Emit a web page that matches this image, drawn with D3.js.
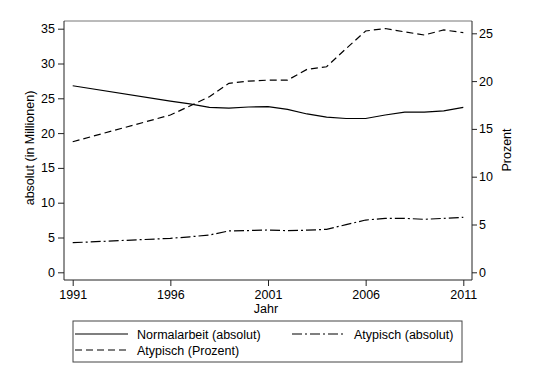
<!DOCTYPE html>
<html><head><meta charset="utf-8">
<script src="https://cdn.jsdelivr.net/npm/d3@7"></script>
<style>
body{margin:0;background:#fff;}
text{font-family:"Liberation Sans",Arial,sans-serif;fill:#000;}
</style></head>
<body><svg id="c" width="536" height="390"></svg>
<script>
const years = [1991,1996,1997,1998,1999,2000,2001,2002,2003,2004,2005,2006,2007,2008,2009,2010,2011];
const normalAbs = [26.8,24.6,24.2,23.7,23.6,23.75,23.8,23.4,22.75,22.3,22.1,22.1,22.6,23.0,23.0,23.2,23.7];
const atypAbs   = [4.25,4.88,5.1,5.36,5.95,6.0,6.08,5.98,6.05,6.18,6.85,7.51,7.75,7.75,7.61,7.75,7.9];
const atypPct   = [13.66,16.45,17.4,18.37,19.77,20.0,20.1,20.1,21.23,21.5,23.4,25.24,25.5,25.15,24.82,25.35,25.07];
const xTicks = [1991,1996,2001,2006,2011];
const yLeftTicks = [0,5,10,15,20,25,30,35];
const yRightTicks = [0,5,10,15,20,25];
const legendLabels = ["Normalarbeit (absolut)","Atypisch (absolut)","Atypisch (Prozent)"];

const svg = d3.select("#c");
const L=64,R=472,T=21,B=280;
const x = d3.scaleLinear().domain([1991,2011]).range([72.7,463.3]);
const yL = d3.scaleLinear().domain([0,35]).range([272.3,28.7]);
const yR = d3.scaleLinear().domain([0,25]).range([272.3,33.3]);

// plot region border (top)
svg.append("line").attr("x1",L).attr("x2",R).attr("y1",T).attr("y2",T).attr("stroke","#777").attr("stroke-width",1);

const fs = "12.5px";
// left axis
const gl = svg.append("g").attr("transform",`translate(${L},0)`)
  .call(d3.axisLeft(yL).tickValues(yLeftTicks).tickSize(6).tickPadding(3).tickFormat(d3.format("d")));
gl.select(".domain").attr("d",`M0,${T}V${B}`).attr("stroke","#222");
// right axis
const gr = svg.append("g").attr("transform",`translate(${R},0)`)
  .call(d3.axisRight(yR).tickValues(yRightTicks).tickSize(5).tickPadding(2).tickFormat(d3.format("d")));
gr.select(".domain").attr("d",`M0,${T}V${B}`).attr("stroke","#222");
// bottom axis
const gb = svg.append("g").attr("transform",`translate(0,${B})`)
  .call(d3.axisBottom(x).tickValues(xTicks).tickSize(6).tickPadding(4).tickFormat(d3.format("d")));
gb.select(".domain").attr("d",`M${L},0H${R}`).attr("stroke","#222");
svg.selectAll(".tick line").attr("stroke","#222");
svg.selectAll(".tick text").style("font-size",fs).style("font-family","'Liberation Sans',Arial,sans-serif").attr("fill","#000");

// axis titles
svg.append("text").attr("transform","translate(34,148) rotate(-90)").attr("text-anchor","middle").style("font-size",fs).text("absolut (in Millionen)");
svg.append("text").attr("transform","translate(511,150) rotate(-90)").attr("text-anchor","middle").style("font-size",fs).text("Prozent");
svg.append("text").attr("x",266).attr("y",313).attr("text-anchor","middle").style("font-size",fs).text("Jahr");

const styles = [
  {vals:normalAbs, y:yL, dash:null},
  {vals:atypAbs, y:yL, dash:"10,3,2,3"},
  {vals:atypPct, y:yR, dash:"7,4"}
];
styles.forEach(s=>{
  const line = d3.line().x((d,i)=>x(years[i])).y(d=>s.y(d));
  svg.append("path").datum(s.vals).attr("d",line).attr("fill","none")
    .attr("stroke","#000").attr("stroke-width",1.2)
    .attr("stroke-dasharray",s.dash);
});

// legend
svg.append("rect").attr("x",73).attr("y",321).attr("width",389).attr("height",41)
  .attr("fill","#fff").attr("stroke","#444").attr("stroke-width",1);
const leg = [
  {lx:75, ly:334, dash:null, label:legendLabels[0]},
  {lx:292, ly:334, dash:"10,3,2,3", label:legendLabels[1]},
  {lx:75, ly:350, dash:"7,4", label:legendLabels[2]}
];
leg.forEach(l=>{
  svg.append("line").attr("x1",l.lx).attr("x2",l.lx+53).attr("y1",l.ly).attr("y2",l.ly)
    .attr("stroke","#000").attr("stroke-width",1.2).attr("stroke-dasharray",l.dash);
  svg.append("text").attr("x",l.lx+62).attr("y",l.ly+4.5).style("font-size",fs).text(l.label);
});
</script></body></html>
